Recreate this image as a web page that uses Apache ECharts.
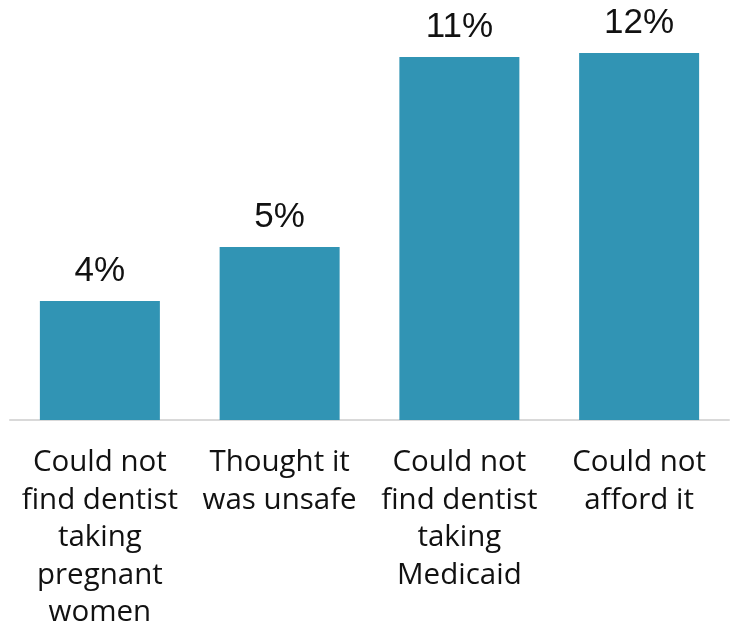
<!DOCTYPE html>
<html><head><meta charset="utf-8">
<script src="https://cdn.jsdelivr.net/npm/echarts@6/dist/echarts.min.js"></script>
<style>html,body{margin:0;padding:0;background:#fff}#c{width:735px;height:629px}</style>
</head><body><div id="c"></div>
<script>
const categories = [
  'Could not\nfind dentist\ntaking\npregnant\nwomen',
  'Thought it\nwas unsafe',
  'Could not\nfind dentist\ntaking\nMedicaid',
  'Could not\nafford it'
];
const values = [3.78, 5.49, 11.52, 11.65];
const valueLabels = ['4%', '5%', '11%', '12%'];

const chart = echarts.init(document.getElementById('c'));
chart.setOption({
  animation: false,
  grid: { left: 10, right: 6, top: 10.5, bottom: 209, containLabel: false, outerBoundsMode: 'none' },
  xAxis: {
    type: 'category',
    data: categories,
    axisLine: { lineStyle: { color: '#d9d9d9', width: 2 } },
    axisTick: { show: false },
    axisLabel: {
      interval: 0, margin: 24,
      fontFamily: 'Open Sans', fontSize: 29.5, color: '#111', lineHeight: 37.5
    }
  },
  yAxis: { type: 'value', min: 0, max: 13, show: false, splitLine: { show: false } },
  series: [{
    type: 'bar',
    data: values,
    barWidth: 120,
    itemStyle: { color: '#3194b4' },
    label: {
      show: true, position: 'top', distance: 12,
      fontFamily: 'Liberation Sans', fontSize: 35, color: '#111',
      formatter: p => valueLabels[p.dataIndex]
    }
  }]
});
</script></body></html>
